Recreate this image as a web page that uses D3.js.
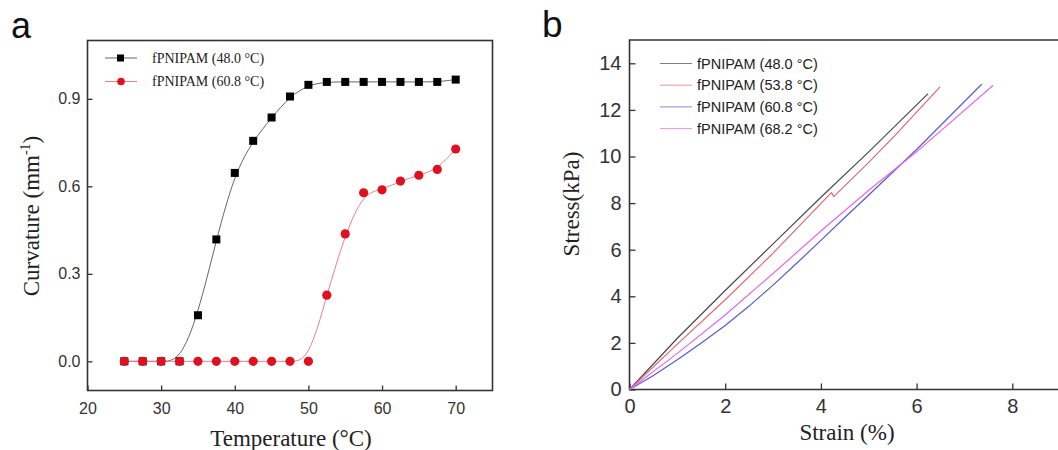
<!DOCTYPE html>
<html>
<head>
<meta charset="utf-8">
<script src="https://cdn.jsdelivr.net/npm/d3@7"></script>
<style>
  body { margin: 0; background: #fff; }
  .tick text { fill: #333; }
  .ttl { font-family: "Liberation Serif", "Times New Roman", serif; fill: #222; }
</style>
</head>
<body>
<svg id="chart" width="1058" height="450"></svg>
<script>
// panel a: curvature vs temperature
const tempC = [25, 27.5, 30, 32.5, 35, 37.5, 40, 42.5, 45, 47.5, 50, 52.5, 55, 57.5, 60, 62.5, 65, 67.5, 70];
const curv480 = [0, 0, 0, 0, 0.158, 0.418, 0.646, 0.756, 0.836, 0.908, 0.948, 0.958, 0.958, 0.958, 0.958, 0.958, 0.958, 0.958, 0.966];
const curv608 = [0, 0, 0, 0, 0, 0, 0, 0, 0, 0, 0, 0.227, 0.437, 0.578, 0.588, 0.618, 0.638, 0.658, 0.728];
const legendA = ['fPNIPAM (48.0 °C)', 'fPNIPAM (60.8 °C)'];
const ticksAx = [20, 30, 40, 50, 60, 70];
const ticksAy = [0, 0.3, 0.6, 0.9];

// panel b: stress vs strain
const strain480 = [0, 1, 2, 3, 4, 5, 6.24];
const stress480 = [0, 2.2, 4.25, 6.25, 8.25, 10.2, 12.7];
const strain538 = [0, 1, 2, 3, 4.22, 4.27, 5, 5.51, 6.49];
const stress538 = [0, 1.95, 3.85, 5.85, 8.45, 8.28, 9.75, 10.82, 12.99];
const strain608 = [0, 0.5, 1, 1.5, 2, 2.5, 3, 3.5, 4, 4.5, 5, 6, 7.36];
const stress608 = [0, 0.6, 1.28, 2.0, 2.75, 3.58, 4.48, 5.43, 6.4, 7.38, 8.35, 10.3, 13.1];
const strain682 = [0, 1, 2, 3, 4, 5, 6, 7.6];
const stress682 = [0, 1.55, 3.2, 4.98, 6.8, 8.55, 10.2, 13.06];
const legendB = ['fPNIPAM (48.0 °C)', 'fPNIPAM (53.8 °C)', 'fPNIPAM (60.8 °C)', 'fPNIPAM (68.2 °C)'];
const ticksBx = [0, 2, 4, 6, 8];
const ticksBy = [0, 2, 4, 6, 8, 10, 12, 14];

const svg = d3.select('#chart');
const sans = '"Liberation Sans", Arial, sans-serif';

// ---------- panel a ----------
const ax = d3.scaleLinear().domain([20, 75]).range([87.5, 492.5]);
const ay = d3.scaleLinear().domain([-0.1, 1.1]).range([390.5, 40.5]);

svg.append('text').attr('x', 11).attr('y', 38)
  .attr('font-family', sans).attr('font-size', 36).attr('fill', '#111').text('a');

const gAx = svg.append('g').attr('transform', `translate(0, ${ay.range()[0]})`)
  .call(d3.axisBottom(ax).tickValues(ticksAx).tickSize(-5).tickPadding(12));
const gAy = svg.append('g').attr('transform', `translate(${ax.range()[0]}, 0)`)
  .call(d3.axisLeft(ay).tickValues(ticksAy).tickFormat(d3.format('.1f')).tickSize(-5).tickPadding(7));
[gAx, gAy].forEach(g => {
  g.select('.domain').remove();
  g.selectAll('.tick line').attr('stroke', '#333').attr('stroke-width', 1.3);
  g.selectAll('.tick text').attr('font-family', sans).attr('font-size', 16);
});

svg.append('rect')
  .attr('x', ax.range()[0]).attr('y', ay.range()[1])
  .attr('width', ax.range()[1] - ax.range()[0]).attr('height', ay.range()[0] - ay.range()[1])
  .attr('fill', 'none').attr('stroke', '#333').attr('stroke-width', 1.6);

const lineA = d3.line().x(d => ax(d[0])).y(d => ay(d[1])).curve(d3.curveBasis);
const seriesA = [
  { vals: curv480, line: '#666', mark: '#000', shape: 'square' },
  { vals: curv608, line: '#e8808a', mark: '#e0101e', shape: 'circle' }
];
seriesA.forEach(s => {
  const pts = tempC.map((t, i) => [t, s.vals[i]]);
  svg.append('path').attr('d', lineA(pts))
    .attr('fill', 'none').attr('stroke', s.line).attr('stroke-width', 1);
});
seriesA.forEach(s => {
  const pts = tempC.map((t, i) => [t, s.vals[i]]);
  if (s.shape === 'square') {
    svg.selectAll(null).data(pts).enter().append('rect')
      .attr('x', d => ax(d[0]) - 4).attr('y', d => ay(d[1]) - 4)
      .attr('width', 8).attr('height', 8).attr('fill', s.mark);
  } else {
    svg.selectAll(null).data(pts).enter().append('circle')
      .attr('cx', d => ax(d[0])).attr('cy', d => ay(d[1]))
      .attr('r', 4.6).attr('fill', s.mark);
  }
});

// legend a
seriesA.forEach((s, i) => {
  const y = 58 + i * 23.5;
  svg.append('line').attr('x1', 105).attr('x2', 137).attr('y1', y).attr('y2', y)
    .attr('stroke', s.line).attr('stroke-width', 1);
  if (s.shape === 'square') {
    svg.append('rect').attr('x', 117).attr('y', y - 3.5).attr('width', 7).attr('height', 7).attr('fill', s.mark);
  } else {
    svg.append('circle').attr('cx', 121).attr('cy', y).attr('r', 3.8).attr('fill', s.mark);
  }
  svg.append('text').attr('class', 'ttl').attr('x', 152).attr('y', y + 4.5)
    .attr('font-size', 14).attr('fill', '#333').text(legendA[i]);
});

// axis titles a
svg.append('text').attr('class', 'ttl')
  .attr('x', 291).attr('y', 446).attr('text-anchor', 'middle')
  .attr('font-size', 23).text('Temperature (°C)');
const cy = svg.append('text').attr('class', 'ttl')
  .attr('transform', 'translate(39, 216) rotate(-90)').attr('text-anchor', 'middle')
  .attr('font-size', 23);
cy.append('tspan').text('Curvature (mm');
cy.append('tspan').attr('font-size', 14).attr('dy', -9).text('-1');
cy.append('tspan').attr('dy', 9).text(')');

// ---------- panel b ----------
const bx = d3.scaleLinear().domain([0, 10]).range([629.5, 1108]);
const by = d3.scaleLinear().domain([0, 15]).range([389.5, 40]);

svg.append('text').attr('x', 542).attr('y', 37)
  .attr('font-family', sans).attr('font-size', 37).attr('fill', '#111').text('b');

const gBx = svg.append('g').attr('transform', `translate(0, ${by.range()[0]})`)
  .call(d3.axisBottom(bx).tickValues(ticksBx).tickSize(-6).tickPadding(9));
const gBy = svg.append('g').attr('transform', `translate(${bx.range()[0]}, 0)`)
  .call(d3.axisLeft(by).tickValues(ticksBy).tickSize(-6).tickPadding(8));
[gBx, gBy].forEach(g => {
  g.select('.domain').remove();
  g.selectAll('.tick line').attr('stroke', '#333').attr('stroke-width', 1.3);
  g.selectAll('.tick text').attr('font-family', sans).attr('font-size', 20);
});

svg.append('path')
  .attr('d', `M${bx.range()[1]},${by.range()[1]}H${bx.range()[0]}V${by.range()[0]}H${bx.range()[1]}`)
  .attr('fill', 'none').attr('stroke', '#333').attr('stroke-width', 1.6);

const lineB = d3.line().x(d => bx(d[0])).y(d => by(d[1]));
const seriesB = [
  { x: strain480, y: stress480, color: '#4a4a4a' },
  { x: strain538, y: stress538, color: '#e0686e' },
  { x: strain608, y: stress608, color: '#5858d8' },
  { x: strain682, y: stress682, color: '#e468e8' }
];
seriesB.forEach(s => {
  const pts = s.x.map((v, i) => [v, s.y[i]]);
  svg.append('path').attr('d', lineB(pts))
    .attr('fill', 'none').attr('stroke', s.color).attr('stroke-width', 1.2)
    .attr('stroke-linejoin', 'round');
});

// legend b
seriesB.forEach((s, i) => {
  const y = 63.5 + i * 21.7;
  svg.append('line').attr('x1', 660).attr('x2', 692).attr('y1', y).attr('y2', y)
    .attr('stroke', s.color).attr('stroke-width', 1).attr('opacity', 0.7);
  svg.append('text').attr('x', 697).attr('y', y + 5)
    .attr('font-family', sans).attr('font-size', 14.5).attr('fill', '#222')
    .text(legendB[i]);
});

// axis titles b
svg.append('text').attr('class', 'ttl')
  .attr('x', 847).attr('y', 440).attr('text-anchor', 'middle')
  .attr('font-size', 23).text('Strain (%)');
svg.append('text').attr('class', 'ttl')
  .attr('transform', 'translate(579, 204) rotate(-90)').attr('text-anchor', 'middle')
  .attr('font-size', 23).text('Stress(kPa)');
</script>
</body>
</html>
